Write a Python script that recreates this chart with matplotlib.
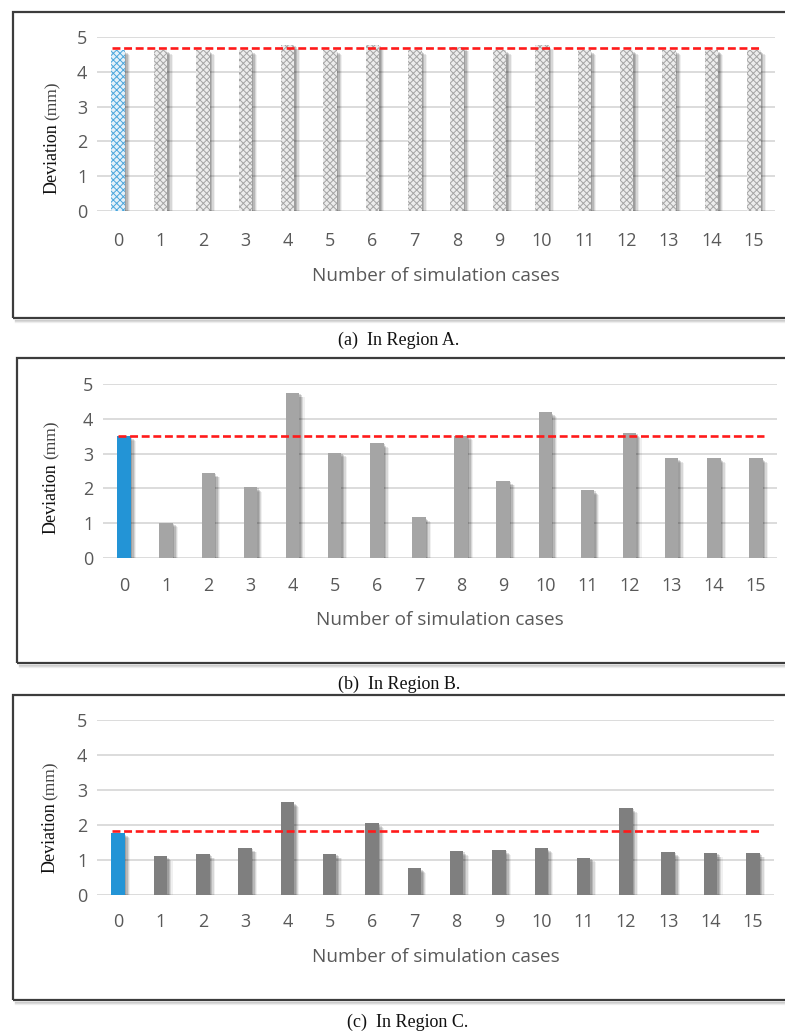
import matplotlib
matplotlib.use("Agg")
import matplotlib.pyplot as plt
import matplotlib.patheffects as pe
from matplotlib.patches import Rectangle
from matplotlib.lines import Line2D

# ---- data ---------------------------------------------------------------
cases = list(range(16))
case_labels = [str(c) for c in cases]
y_ticks = [0, 1, 2, 3, 4, 5]

dev_a = [4.62, 4.62, 4.62, 4.62, 4.78, 4.62, 4.77, 4.62,
         4.72, 4.62, 4.77, 4.62, 4.62, 4.62, 4.62, 4.62]
dev_b = [3.51, 1.02, 2.45, 2.04, 4.75, 3.03, 3.31, 1.17,
         3.52, 2.22, 4.19, 1.96, 3.59, 2.87, 2.87, 2.87]
dev_c = [1.76, 1.11, 1.18, 1.35, 2.65, 1.18, 2.05, 0.76,
         1.26, 1.29, 1.33, 1.07, 2.49, 1.23, 1.21, 1.21]
ref_a = 4.67
ref_b = 3.52
ref_c = 1.84

captions = ["(a)  In Region A.", "(b)  In Region B.", "(c)  In Region C."]
x_title = "Number of simulation cases"

# ---- layout (pixels) ----------------------------------------------------
W, H = 785, 1035
fig = plt.figure(figsize=(W / 100, H / 100), dpi=100)


def fx(px):
    return px / W


def fy(py):
    return 1 - py / H


BLUE = "#2394d6"
GRID = "#d9d9d9"
TICK = "#595959"

panels = [
    dict(values=dev_a, ref=ref_a, ax=(97, 37, 775, 211), box=(13, 12, 318),
         kind="hatch", bar="#a8a8a8", xt=241, xl=276, dev_y=159, mm_y=101,
         lab_x=52, cap=(399, 340)),
    dict(values=dev_b, ref=ref_b, ax=(103, 384, 777, 558), box=(17, 358, 663),
         kind="solid", bar="#a5a5a5", xt=586, xl=620, dev_y=499, mm_y=440,
         lab_x=51, cap=(399, 684)),
    dict(values=dev_c, ref=ref_c, ax=(97, 720, 774, 895), box=(13, 695, 1000),
         kind="solid", bar="#7f7f7f", xt=922, xl=957, dev_y=838, mm_y=781,
         lab_x=50, cap=(408, 1022)),
]

shadow_fx = [
    pe.SimplePatchShadow(offset=(1.0, -1.0), shadow_rgbFace="#000000", alpha=0.14),
    pe.SimplePatchShadow(offset=(2.0, -2.0), shadow_rgbFace="#000000", alpha=0.14),
    pe.SimplePatchShadow(offset=(3.0, -2.8), shadow_rgbFace="#000000", alpha=0.10),
    pe.SimplePatchShadow(offset=(3.8, -3.4), shadow_rgbFace="#000000", alpha=0.06),
]

plt.rcParams["hatch.linewidth"] = 0.7

for i, p in enumerate(panels):
    x0, y0, x1, y1 = p["ax"]
    ax = fig.add_axes([fx(x0), fy(y1), fx(x1) - fx(x0), fy(y0) - fy(y1)])
    ax.set_xlim(-0.5, 15.5)
    ax.set_ylim(0, 5)
    for s in ax.spines.values():
        s.set_visible(False)
    ax.set_yticks(y_ticks)
    ax.set_yticklabels([str(t) for t in y_ticks], fontfamily="Open Sans",
                       fontsize=13, color=TICK)
    ax.set_xticks(cases)
    ax.set_xticklabels([])
    ax.tick_params(length=0)
    ax.tick_params(axis="y", pad=7)
    for t in y_ticks:
        ax.axhline(t, color=GRID, lw=1.3, zorder=0)

    vals = p["values"]
    width = 0.32
    # soft drop shadows behind the bars
    sh = ax.bar(cases, vals, width=width, color="#888888", lw=0, zorder=1)
    for b in sh:
        b.set_path_effects(shadow_fx)
        b.set_facecolor((0, 0, 0, 0))
    colors = [BLUE] + [p["bar"]] * (len(vals) - 1)
    if p["kind"] == "hatch":
        bars = ax.bar(cases, vals, width=width, color="#ececec", lw=0,
                      hatch="xxxxx", zorder=2)
        bars[0].set_facecolor("#e4f1fa")
        for b, c in zip(bars, ["#4aa6dc"] + ["#a4a4a4"] * (len(vals) - 1)):
            b.set_edgecolor(c)
    else:
        ax.bar(cases, vals, width=width, color=colors, lw=0, zorder=2)

    ref_line = ax.hlines(p["ref"], -0.15, 15.2, colors="#ff1a1a", lw=1.9,
                         zorder=3)
    ref_line.set_linestyle((0, (3.0, 1.4)))

    # x tick labels and axis title
    for c, lab in zip(cases, case_labels):
        px = x0 + (c + 0.5) * (x1 - x0) / 16
        fig.text(fx(px), fy(p["xt"]), lab, ha="center", va="center",
                 fontfamily="Open Sans", fontsize=13, color=TICK)
    fig.text(fx((x0 + x1) / 2), fy(p["xl"]), x_title, ha="center",
             va="center", fontfamily="Open Sans", fontsize=13.7, color=TICK)

    # y axis title
    fig.text(fx(p["lab_x"]), fy(p["dev_y"]), "Deviation", rotation=90,
             ha="center", va="center", fontfamily="Liberation Serif",
             fontsize=13, color="#111111")
    fig.text(fx(p["lab_x"] + 1), fy(p["mm_y"]), "(mm)", rotation=90,
             ha="center", va="center", fontfamily="Liberation Serif",
             fontsize=12.5, color="#444444")

    # frame around the panel
    bx, btop, bbot = p["box"]
    for k, a in enumerate([0.18, 0.10, 0.05]):
        fig.add_artist(Line2D([fx(bx + 2), fx(W + 10)],
                              [fy(bbot + 2 + k), fy(bbot + 2 + k)],
                              transform=fig.transFigure, color="black",
                              alpha=a, lw=1.0))
    fig.add_artist(Rectangle((fx(bx), fy(bbot)), fx(W + 20) - fx(bx),
                             fy(btop) - fy(bbot), transform=fig.transFigure,
                             fill=False, ec="#3c3c3c", lw=1.6))

    # caption
    cx, cy = p["cap"]
    fig.text(fx(cx), fy(cy), captions[i], ha="center", va="center",
             fontfamily="Liberation Serif", fontsize=13, color="#111111")

fig.savefig("out.png", dpi=100, facecolor="white")
